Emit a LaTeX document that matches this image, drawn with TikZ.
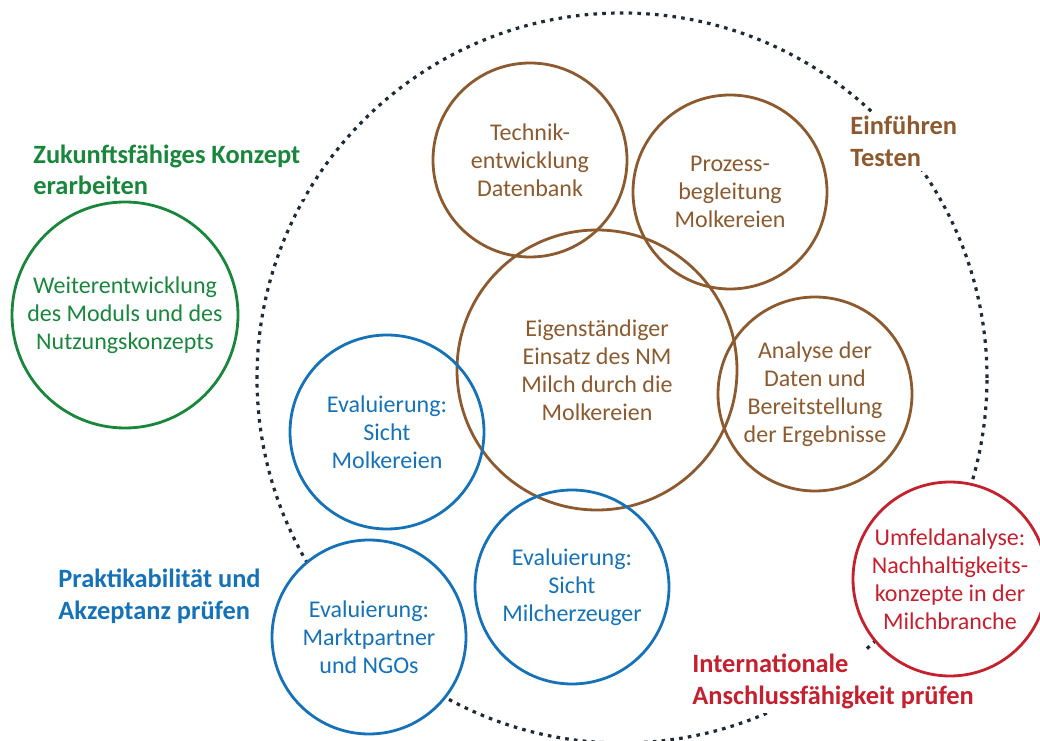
\documentclass[tikz,border=0pt]{standalone}
\usepackage{fontspec}
\setmainfont{Carlito}
\usepackage{xcolor}
\usepackage{tikz}
\usetikzlibrary{positioning}

\definecolor{braun}{RGB}{140,90,46}
\definecolor{gruen}{RGB}{24,135,60}
\definecolor{blau}{RGB}{22,114,184}
\definecolor{rot}{RGB}{197,32,46}
\definecolor{punkt}{RGB}{30,42,54}

\begin{document}
\begin{tikzpicture}[
    x=1pt, y=1pt,
    kreis/.style={circle, draw, line width=1.4pt, minimum size=97pt, inner sep=0pt, align=center, font=\fontsize{12}{14}\selectfont},
    braunkreis/.style={kreis, draw=braun, text=braun},
    blaukreis/.style={kreis, draw=blau, text=blau},
    rotkreis/.style={kreis, draw=rot, text=rot},
    gruenkreis/.style={kreis, draw=gruen, text=gruen},
    titel/.style={anchor=west, align=left, fill=white, inner sep=2pt, font=\bfseries\fontsize{13.2}{15.75}\selectfont},
    ring/.style={draw=punkt, line width=1.6pt, dash pattern=on 1.8pt off 2.6pt}
]
\useasboundingbox (0,0) rectangle (520,370);

\coordinate (ringmitte) at (311,181);
\draw[ring] (ringmitte) circle[radius=182.5];

\node[titel, text=gruen] (konzept) at (14.5,285) {Zukunftsfähiges Konzept\\erarbeiten};
\node[titel, text=braun] (testen) at (423,299.25) {Einführen\\Testen};
\node[titel, text=blau] (praxis) at (27,71.75) {Praktikabilität und\\Akzeptanz prüfen};
\node[titel, text=rot] (international) at (344,29.25) {Internationale\\Anschlussfähigkeit prüfen};

\node[gruenkreis, minimum size=113pt] (weiter) at (62.5,212.5) {Weiterentwicklung\\des Moduls und des\\Nutzungskonzepts};

\node[braunkreis, minimum size=140pt] (einsatz) at (298.5,185) {Eigenständiger\\Einsatz des NM\\Milch durch die\\Molkereien};
\node[braunkreis] (technik) at (265,290) {Technik-\\entwicklung\\Datenbank};
\node[braunkreis] (prozess) at (365,274) {Prozess-\\begleitung\\Molkereien};
\node[braunkreis] (analyse) at (407.5,173) {Analyse der\\Daten und\\Bereitstellung\\der Ergebnisse};

\node[blaukreis] (evmolk) at (193.5,154) {Evaluierung:\\Sicht\\Molkereien};
\node[blaukreis, fill=white] (evmarkt) at (184.5,51.5) {Evaluierung:\\Marktpartner\\und NGOs};
\node[blaukreis] (evmilch) at (286,76.5) {Evaluierung:\\Sicht\\Milcherzeuger};

\node[rotkreis, fill=white] (umfeld) at (475,80.5) {Umfeldanalyse:\\Nachhaltigkeits-\\konzepte in der\\Milchbranche};

\end{tikzpicture}
\end{document}
